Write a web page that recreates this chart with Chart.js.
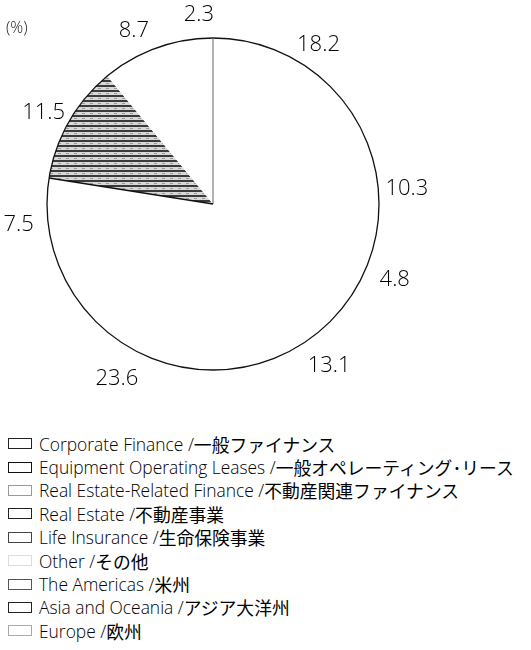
<!DOCTYPE html>
<html>
<head>
<meta charset="utf-8">
<script src="https://cdn.jsdelivr.net/npm/chart.js@4.4.0/dist/chart.umd.min.js"></script>
<style>
  body { margin: 0; background: #fff; font-family: "Open Sans", "Noto Sans CJK JP", sans-serif; color: #111; }
  #wrap { position: relative; width: 531px; height: 650px; }
  #pie-box { position: absolute; left: 0; top: 0; width: 531px; height: 400px; }
  #unit { position: absolute; left: 6px; top: 16px; font-size: 16px; color: #222; font-weight: 300; }
  #legend { position: absolute; left: 8px; top: 432px; }
  .row { display: flex; align-items: center; height: 23.4px; font-size: 17.4px; white-space: nowrap; font-weight: 300; color: #000; }
  .row .jp { font-family: "Noto Sans CJK JP", sans-serif; font-size: 17.8px; font-weight: 400; }
  .sw { width: 22px; height: 9px; border: 1.5px solid #222; margin-right: 7px; background: #fff; }
</style>
</head>
<body>
<div id="wrap">
  <div id="pie-box"><canvas id="pie"></canvas></div>
  <div id="unit">(%)</div>
  <div id="legend"></div>
</div>
<script>
const segments = [
  'Corporate Finance /一般ファイナンス',
  'Equipment Operating Leases /一般オペレーティング･リース',
  'Real Estate-Related Finance /不動産関連ファイナンス',
  'Real Estate /不動産事業',
  'Life Insurance /生命保険事業',
  'Other /その他',
  'The Americas /米州',
  'Asia and Oceania /アジア大洋州',
  'Europe /欧州'
];
const shares = [18.2, 10.3, 4.8, 13.1, 23.6, 7.5, 11.5, 8.7, 2.3];
const swatchBorders = ['#222', '#111', '#999', '#222', '#444', '#ddd', '#555', '#222', '#aaa'];

// horizontal streak pattern for the one printed slice
function streaks() {
  const c = document.createElement('canvas');
  c.width = 8; c.height = 5;
  const g = c.getContext('2d');
  g.fillStyle = '#d8d8d8';
  g.fillRect(0, 0, 8, 5);
  g.fillStyle = '#3a3a3a';
  g.fillRect(0, 0, 8, 2);
  g.fillStyle = '#9a9a9a';
  g.fillRect(2, 3, 3, 1);
  return g.createPattern(c, 'repeat');
}

const fills = shares.map((v, i) => i === 6 ? streaks() : '#ffffff');

const outlinePlugin = {
  id: 'outline',
  afterDatasetsDraw(chart) {
    const arcs = chart.getDatasetMeta(0).data;
    const ctx = chart.ctx;
    const a0 = arcs[0];
    ctx.save();
    ctx.strokeStyle = '#111';
    ctx.lineWidth = 1.3;
    ctx.beginPath();
    ctx.arc(a0.x, a0.y, a0.outerRadius, 0, Math.PI * 2);
    ctx.stroke();
    // visible slice edges: top and lower edge of the Americas slice
    [[0, '#666', 1], [6, '#111', 1.4]].forEach(([i, col, w]) => {
      const a = arcs[i];
      ctx.strokeStyle = col;
      ctx.lineWidth = w;
      ctx.beginPath();
      ctx.moveTo(a.x, a.y);
      ctx.lineTo(a.x + Math.cos(a.startAngle) * a.outerRadius, a.y + Math.sin(a.startAngle) * a.outerRadius);
      ctx.stroke();
    });
    // value labels outside the pie
    ctx.fillStyle = '#000';
    ctx.font = '300 22px "Open Sans", sans-serif';
    ctx.textAlign = 'center';
    ctx.textBaseline = 'middle';
    arcs.forEach((a, i) => {
      const mid = (a.startAngle + a.endAngle) / 2;
      const r = a.outerRadius + 29;
      ctx.fillText(shares[i].toFixed(1), a.x + Math.cos(mid) * r, a.y + Math.sin(mid) * r + 5);
    });
    ctx.restore();
  }
};

new Chart(document.getElementById('pie'), {
  type: 'pie',
  data: {
    labels: segments,
    datasets: [{
      data: shares,
      backgroundColor: fills,
      borderWidth: 0
    }]
  },
  options: {
    responsive: true,
    maintainAspectRatio: false,
    animation: false,
    layout: {
      padding: { left: 47, right: 152, top: 38, bottom: 30 }
    },
    plugins: {
      legend: { display: false },
      tooltip: { enabled: false }
    }
  },
  plugins: [outlinePlugin]
});

const legend = document.getElementById('legend');
segments.forEach((name, i) => {
  const cut = name.indexOf('/') + 1;
  const row = document.createElement('div');
  row.className = 'row';
  const sw = document.createElement('span');
  sw.className = 'sw';
  sw.style.borderColor = swatchBorders[i];
  const en = document.createElement('span');
  en.textContent = name.slice(0, cut);
  const jp = document.createElement('span');
  jp.className = 'jp';
  jp.textContent = name.slice(cut);
  row.appendChild(sw);
  row.appendChild(en);
  row.appendChild(jp);
  legend.appendChild(row);
});
</script>
</body>
</html>
